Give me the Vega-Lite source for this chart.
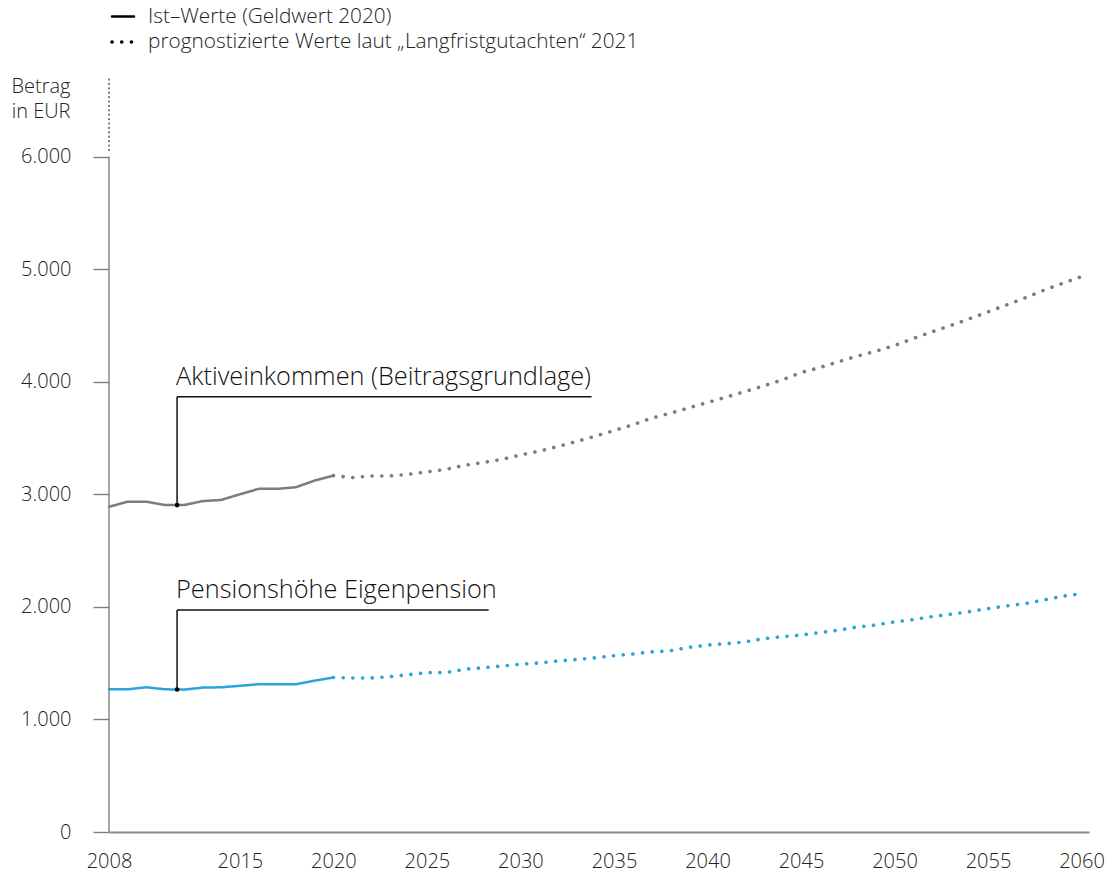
{
  "$schema": "https://vega.github.io/schema/vega-lite/v6.json",
  "width": 980,
  "height": 754,
  "autosize": {"type": "none"},
  "padding": {"left": 109, "top": 78, "right": 28, "bottom": 49},
  "background": "white",
  "config": {
    "view": {"stroke": null},
    "font": "Open Sans",
    "text": {"font": "Open Sans"}
  },
  "datasets": {
    "lines": [
      {"year": 2008, "value": 2890, "series": "aktiv", "type": "ist"},
      {"year": 2009, "value": 2935, "series": "aktiv", "type": "ist"},
      {"year": 2010, "value": 2935, "series": "aktiv", "type": "ist"},
      {"year": 2011, "value": 2905, "series": "aktiv", "type": "ist"},
      {"year": 2012, "value": 2905, "series": "aktiv", "type": "ist"},
      {"year": 2013, "value": 2940, "series": "aktiv", "type": "ist"},
      {"year": 2014, "value": 2951, "series": "aktiv", "type": "ist"},
      {"year": 2015, "value": 3001, "series": "aktiv", "type": "ist"},
      {"year": 2016, "value": 3049, "series": "aktiv", "type": "ist"},
      {"year": 2017, "value": 3049, "series": "aktiv", "type": "ist"},
      {"year": 2018, "value": 3064, "series": "aktiv", "type": "ist"},
      {"year": 2019, "value": 3123, "series": "aktiv", "type": "ist"},
      {"year": 2020, "value": 3167, "series": "aktiv", "type": "ist"},
      {"year": 2020, "value": 3167, "series": "aktiv", "type": "prog"},
      {"year": 2021, "value": 3149, "series": "aktiv", "type": "prog"},
      {"year": 2022, "value": 3164, "series": "aktiv", "type": "prog"},
      {"year": 2023, "value": 3164, "series": "aktiv", "type": "prog"},
      {"year": 2024, "value": 3178, "series": "aktiv", "type": "prog"},
      {"year": 2025, "value": 3200, "series": "aktiv", "type": "prog"},
      {"year": 2026, "value": 3222, "series": "aktiv", "type": "prog"},
      {"year": 2027, "value": 3258, "series": "aktiv", "type": "prog"},
      {"year": 2028, "value": 3283, "series": "aktiv", "type": "prog"},
      {"year": 2029, "value": 3311, "series": "aktiv", "type": "prog"},
      {"year": 2030, "value": 3350, "series": "aktiv", "type": "prog"},
      {"year": 2031, "value": 3384, "series": "aktiv", "type": "prog"},
      {"year": 2032, "value": 3425, "series": "aktiv", "type": "prog"},
      {"year": 2033, "value": 3470, "series": "aktiv", "type": "prog"},
      {"year": 2034, "value": 3517, "series": "aktiv", "type": "prog"},
      {"year": 2035, "value": 3567, "series": "aktiv", "type": "prog"},
      {"year": 2036, "value": 3618, "series": "aktiv", "type": "prog"},
      {"year": 2037, "value": 3677, "series": "aktiv", "type": "prog"},
      {"year": 2038, "value": 3721, "series": "aktiv", "type": "prog"},
      {"year": 2039, "value": 3769, "series": "aktiv", "type": "prog"},
      {"year": 2040, "value": 3816, "series": "aktiv", "type": "prog"},
      {"year": 2041, "value": 3864, "series": "aktiv", "type": "prog"},
      {"year": 2042, "value": 3914, "series": "aktiv", "type": "prog"},
      {"year": 2043, "value": 3964, "series": "aktiv", "type": "prog"},
      {"year": 2044, "value": 4018, "series": "aktiv", "type": "prog"},
      {"year": 2045, "value": 4082, "series": "aktiv", "type": "prog"},
      {"year": 2046, "value": 4127, "series": "aktiv", "type": "prog"},
      {"year": 2047, "value": 4178, "series": "aktiv", "type": "prog"},
      {"year": 2048, "value": 4228, "series": "aktiv", "type": "prog"},
      {"year": 2049, "value": 4272, "series": "aktiv", "type": "prog"},
      {"year": 2050, "value": 4323, "series": "aktiv", "type": "prog"},
      {"year": 2051, "value": 4385, "series": "aktiv", "type": "prog"},
      {"year": 2052, "value": 4444, "series": "aktiv", "type": "prog"},
      {"year": 2053, "value": 4500, "series": "aktiv", "type": "prog"},
      {"year": 2054, "value": 4560, "series": "aktiv", "type": "prog"},
      {"year": 2055, "value": 4622, "series": "aktiv", "type": "prog"},
      {"year": 2056, "value": 4684, "series": "aktiv", "type": "prog"},
      {"year": 2057, "value": 4747, "series": "aktiv", "type": "prog"},
      {"year": 2058, "value": 4815, "series": "aktiv", "type": "prog"},
      {"year": 2059, "value": 4876, "series": "aktiv", "type": "prog"},
      {"year": 2060, "value": 4936, "series": "aktiv", "type": "prog"},
      {"year": 2008, "value": 1268, "series": "pension", "type": "ist"},
      {"year": 2009, "value": 1268, "series": "pension", "type": "ist"},
      {"year": 2010, "value": 1286, "series": "pension", "type": "ist"},
      {"year": 2011, "value": 1268, "series": "pension", "type": "ist"},
      {"year": 2012, "value": 1265, "series": "pension", "type": "ist"},
      {"year": 2013, "value": 1283, "series": "pension", "type": "ist"},
      {"year": 2014, "value": 1286, "series": "pension", "type": "ist"},
      {"year": 2015, "value": 1299, "series": "pension", "type": "ist"},
      {"year": 2016, "value": 1313, "series": "pension", "type": "ist"},
      {"year": 2017, "value": 1313, "series": "pension", "type": "ist"},
      {"year": 2018, "value": 1313, "series": "pension", "type": "ist"},
      {"year": 2019, "value": 1345, "series": "pension", "type": "ist"},
      {"year": 2020, "value": 1373, "series": "pension", "type": "ist"},
      {"year": 2020, "value": 1373, "series": "pension", "type": "prog"},
      {"year": 2021, "value": 1369, "series": "pension", "type": "prog"},
      {"year": 2022, "value": 1369, "series": "pension", "type": "prog"},
      {"year": 2023, "value": 1380, "series": "pension", "type": "prog"},
      {"year": 2024, "value": 1398, "series": "pension", "type": "prog"},
      {"year": 2025, "value": 1416, "series": "pension", "type": "prog"},
      {"year": 2026, "value": 1416, "series": "pension", "type": "prog"},
      {"year": 2027, "value": 1446, "series": "pension", "type": "prog"},
      {"year": 2028, "value": 1460, "series": "pension", "type": "prog"},
      {"year": 2029, "value": 1475, "series": "pension", "type": "prog"},
      {"year": 2030, "value": 1491, "series": "pension", "type": "prog"},
      {"year": 2031, "value": 1502, "series": "pension", "type": "prog"},
      {"year": 2032, "value": 1520, "series": "pension", "type": "prog"},
      {"year": 2033, "value": 1533, "series": "pension", "type": "prog"},
      {"year": 2034, "value": 1548, "series": "pension", "type": "prog"},
      {"year": 2035, "value": 1567, "series": "pension", "type": "prog"},
      {"year": 2036, "value": 1582, "series": "pension", "type": "prog"},
      {"year": 2037, "value": 1600, "series": "pension", "type": "prog"},
      {"year": 2038, "value": 1610, "series": "pension", "type": "prog"},
      {"year": 2039, "value": 1641, "series": "pension", "type": "prog"},
      {"year": 2040, "value": 1661, "series": "pension", "type": "prog"},
      {"year": 2041, "value": 1674, "series": "pension", "type": "prog"},
      {"year": 2042, "value": 1689, "series": "pension", "type": "prog"},
      {"year": 2043, "value": 1718, "series": "pension", "type": "prog"},
      {"year": 2044, "value": 1736, "series": "pension", "type": "prog"},
      {"year": 2045, "value": 1750, "series": "pension", "type": "prog"},
      {"year": 2046, "value": 1772, "series": "pension", "type": "prog"},
      {"year": 2047, "value": 1793, "series": "pension", "type": "prog"},
      {"year": 2048, "value": 1822, "series": "pension", "type": "prog"},
      {"year": 2049, "value": 1840, "series": "pension", "type": "prog"},
      {"year": 2050, "value": 1867, "series": "pension", "type": "prog"},
      {"year": 2051, "value": 1887, "series": "pension", "type": "prog"},
      {"year": 2052, "value": 1914, "series": "pension", "type": "prog"},
      {"year": 2053, "value": 1935, "series": "pension", "type": "prog"},
      {"year": 2054, "value": 1958, "series": "pension", "type": "prog"},
      {"year": 2055, "value": 1985, "series": "pension", "type": "prog"},
      {"year": 2056, "value": 2009, "series": "pension", "type": "prog"},
      {"year": 2057, "value": 2030, "series": "pension", "type": "prog"},
      {"year": 2058, "value": 2062, "series": "pension", "type": "prog"},
      {"year": 2059, "value": 2095, "series": "pension", "type": "prog"},
      {"year": 2060, "value": 2118, "series": "pension", "type": "prog"}
    ],
    "notes": [
      {"year": 2011.64, "value": 2905, "top": 3867, "xend": 2033.8, "label": "Aktiveinkommen (Beitragsgrundlage)"},
      {"year": 2011.64, "value": 1266, "top": 1973, "xend": 2028.3, "label": "Pensionshöhe Eigenpension"}
    ]
  },
  "layer": [
    {
      "data": {"name": "lines"},
      "mark": {"type": "line", "strokeCap": "round", "strokeJoin": "round"},
      "encoding": {
        "x": {
          "field": "year", "type": "quantitative",
          "scale": {"domain": [2008, 2060.4], "nice": false, "zero": false},
          "axis": {
            "values": [2008, 2015, 2020, 2025, 2030, 2035, 2040, 2045, 2050, 2055, 2060],
            "format": "d", "title": null, "ticks": false, "grid": false,
            "domainColor": "#8a8a8a", "domainWidth": 2,
            "labelFont": "Open Sans", "labelFontWeight": 300, "labelFontSize": 20,
            "labelColor": "#222222", "labelPadding": 19, "labelFlush": false
          }
        },
        "y": {
          "field": "value", "type": "quantitative",
          "scale": {"domain": [0, 6700], "nice": false},
          "axis": {
            "values": [0, 1000, 2000, 3000, 4000, 5000, 6000],
            "labelExpr": "replace(format(datum.value, ','), ',', '.')",
            "domain": false, "grid": false,
            "tickSize": 16, "tickColor": "#808080", "tickWidth": 1.4,
            "labelFont": "Open Sans", "labelFontWeight": 300, "labelFontSize": 20,
            "labelColor": "#222222", "labelPadding": 22,
            "title": ["Betrag", "in EUR"], "titleAngle": 0, "titleAlign": "right",
            "titleBaseline": "top", "titleX": -39, "titleY": -2,
            "titleFont": "Open Sans", "titleFontWeight": 300, "titleFontSize": 20,
            "titleColor": "#222222", "titleLineHeight": 25
          }
        },
        "color": {
          "field": "series", "type": "nominal",
          "scale": {"domain": ["aktiv", "pension"], "range": ["#7d7d7d", "#2ba3db"]},
          "legend": null
        },
        "strokeDash": {
          "field": "type", "type": "nominal",
          "scale": {"domain": ["ist", "prog"], "range": [[1, 0], [0.1, 9.6]]},
          "legend": {
            "orient": "none", "legendX": 1, "legendY": -74, "direction": "vertical",
            "title": null, "padding": 0,
            "symbolType": "stroke", "symbolStrokeColor": "#000000", "symbolStrokeWidth": 3,
            "symbolSize": 484,
            "labelFont": "Open Sans", "labelFontWeight": 300, "labelFontSize": 20.8,
            "labelColor": "#222222", "labelOffset": 12, "rowPadding": 2, "labelLimit": 900,
            "labelExpr": "datum.label == 'ist' ? 'Ist–Werte (Geldwert 2020)' : 'prognostizierte Werte laut „Langfristgutachten“ 2021'",
            "encode": {"symbols": {"update": {"strokeCap": {"value": "round"}}}}
          }
        },
        "strokeWidth": {
          "field": "type", "type": "nominal",
          "scale": {"domain": ["ist", "prog"], "range": [2.5, 3.6]},
          "legend": null
        }
      }
    },
    {
      "data": {"values": [{"year": 2008, "value": 0, "value2": 6000}]},
      "mark": {"type": "rule", "color": "#808080", "strokeWidth": 1.4},
      "encoding": {
        "x": {"field": "year", "type": "quantitative"},
        "y": {"field": "value", "type": "quantitative"},
        "y2": {"field": "value2"}
      }
    },
    {
      "data": {"values": [{"year": 2008, "value": 6060, "value2": 6690}]},
      "mark": {"type": "rule", "color": "#777777", "strokeWidth": 2.2, "strokeCap": "round", "strokeDash": [0.1, 4.3]},
      "encoding": {
        "x": {"field": "year", "type": "quantitative"},
        "y": {"field": "value", "type": "quantitative"},
        "y2": {"field": "value2"}
      }
    },
    {
      "data": {"name": "notes"},
      "mark": {"type": "rule", "color": "#111111", "strokeWidth": 1.5},
      "encoding": {
        "x": {"field": "year", "type": "quantitative"},
        "y": {"field": "value", "type": "quantitative"},
        "y2": {"field": "top"}
      }
    },
    {
      "data": {"name": "notes"},
      "mark": {"type": "rule", "color": "#111111", "strokeWidth": 1.5},
      "encoding": {
        "x": {"field": "year", "type": "quantitative"},
        "x2": {"field": "xend"},
        "y": {"field": "top", "type": "quantitative"}
      }
    },
    {
      "data": {"name": "notes"},
      "mark": {"type": "circle", "color": "#000000", "opacity": 1, "size": 22},
      "encoding": {
        "x": {"field": "year", "type": "quantitative"},
        "y": {"field": "value", "type": "quantitative"}
      }
    },
    {
      "data": {"name": "notes"},
      "mark": {"type": "text", "align": "left", "baseline": "alphabetic", "dx": -1, "dy": -12,
               "font": "Open Sans", "fontWeight": 300, "fontSize": 25.3, "color": "#111111"},
      "encoding": {
        "x": {"field": "year", "type": "quantitative"},
        "y": {"field": "top", "type": "quantitative"},
        "text": {"field": "label", "type": "nominal"}
      }
    }
  ]
}
